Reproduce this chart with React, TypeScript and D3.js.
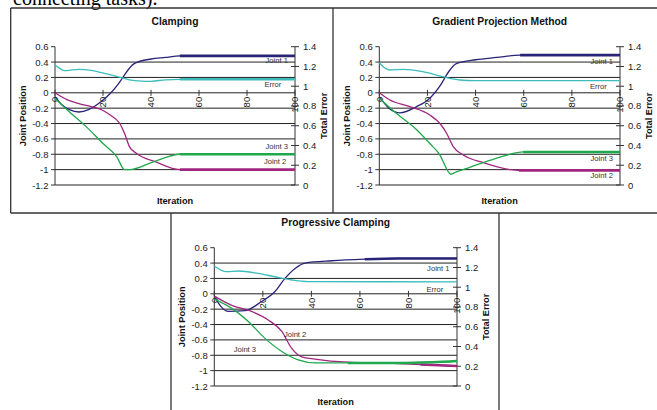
import React from 'react';
import * as d3 from 'd3';

type Pt = [number, number];

// axis ticks
const iterTicks = [0, 20, 40, 60, 80, 100];
const jointTicks = [0.6, 0.4, 0.2, 0, -0.2, -0.4, -0.6, -0.8, -1, -1.2];
const errorTicks = [0, 0.2, 0.4, 0.6, 0.8, 1, 1.2, 1.4];
const gridValues = [0.4, 0.2, 0, -0.2, -0.4, -0.6, -0.8, -1, -1.2];

const seriesNames = ['Joint 1', 'Joint 2', 'Joint 3', 'Error'];
const seriesColors = ['#2a2479', '#a0267f', '#1fa84c', '#3dbcbc'];

// Clamping  [iteration, value]
const clampJoint1: Pt[] = [[0, -0.05], [3, -0.16], [6, -0.22], [10, -0.25], [14, -0.22], [19, -0.12], [23, -0.01], [26, 0.1], [28.5, 0.21], [31, 0.32], [33, 0.38], [40, 0.44], [46, 0.46], [52, 0.48], [100, 0.48]];
const clampJoint2: Pt[] = [[0, 0], [5, -0.09], [10, -0.14], [15, -0.18], [20, -0.23], [23, -0.29], [27, -0.4], [29, -0.53], [31, -0.7], [34, -0.79], [42, -0.9], [52, -1], [100, -1]];
const clampJoint3: Pt[] = [[0, -0.07], [5, -0.22], [13, -0.44], [20, -0.66], [25.7, -0.83], [29, -1], [31, -1], [41, -0.9], [52, -0.8], [100, -0.8]];
const clampError: Pt[] = [[0, 1.215], [2, 1.18], [4, 1.157], [7, 1.165], [10, 1.17], [15, 1.16], [19, 1.14], [24, 1.11], [28, 1.085], [31, 1.065], [36, 1.052], [40, 1.05], [46, 1.065], [52, 1.07], [100, 1.07]];
const clampThick = [52, 52, 52, 50];
const clampLabels: Pt[] = [[92.4, 0.42], [91.7, -0.9], [92.4, -0.7], [90.8, 0.114]];

// Gradient Projection Method
const gradJoint1: Pt[] = [[0, -0.05], [4, -0.2], [8.6, -0.26], [15.5, -0.18], [21, -0.07], [25, 0.08], [29.4, 0.3], [32, 0.38], [40, 0.43], [48.8, 0.46], [58.5, 0.49], [100, 0.49]];
const gradJoint2: Pt[] = [[0, 0], [4.4, -0.094], [12.7, -0.18], [21, -0.29], [25.2, -0.4], [28, -0.53], [30.7, -0.7], [34.9, -0.81], [43.2, -0.91], [54.4, -1], [58, -1.01], [100, -1.01]];
const gradJoint3: Pt[] = [[0, -0.07], [7.2, -0.27], [15.5, -0.48], [21, -0.66], [25.2, -0.81], [28.7, -1.03], [29.6, -1.06], [32, -1.03], [37.6, -0.97], [45.9, -0.88], [54.2, -0.8], [59.8, -0.77], [100, -0.77]];
const gradError: Pt[] = [[0, 1.238], [2, 1.19], [4.4, 1.164], [10, 1.171], [18, 1.147], [26.4, 1.096], [33.4, 1.063], [40, 1.056], [100, 1.056]];
const gradThick = [58, 58, 59.8, 55];
const gradLabels: Pt[] = [[92.4, 0.405], [92.4, -1.07], [92.4, -0.853], [91, 0.079]];

// Progressive Clamping
const progJoint1: Pt[] = [[0, -0.04], [5.8, -0.23], [12.6, -0.22], [19.5, -0.1], [25, 0.03], [29.1, 0.2], [33.3, 0.33], [37.4, 0.4], [48.4, 0.43], [62, 0.45], [75.8, 0.46], [100, 0.46]];
const progJoint2: Pt[] = [[0, -0.03], [7.2, -0.15], [15.4, -0.23], [22.2, -0.34], [27.8, -0.49], [31.9, -0.71], [36, -0.82], [41.5, -0.85], [55.2, -0.89], [69, -0.9], [85, -0.92], [100, -0.94]];
const progJoint3: Pt[] = [[0, -0.07], [7.2, -0.19], [14, -0.36], [20.9, -0.58], [27.8, -0.75], [34.6, -0.86], [41.5, -0.9], [55, -0.9], [76, -0.9], [90, -0.89], [100, -0.875]];
const progError: Pt[] = [[0, 1.215], [5, 1.157], [10, 1.164], [18, 1.14], [25, 1.106], [32, 1.073], [38.7, 1.056], [100, 1.055]];
const progThick = [62, 76, 55, 40];
const progLabels: Pt[] = [[92.3, 0.332], [33.3, -0.527], [12.6, -0.73], [90.9, 0.05]];

const sans = 'Arial, "Liberation Sans", sans-serif';
// plain hyphen minus like the original
const fmt = (v: number) => String(+v.toFixed(1));

type ChartProps = {
  title: string;
  left: number; right: number; top: number; bottom: number;
  series: Pt[][];
  thick: number[];
  labels: Pt[];
};

function Chart({title, left, right, top, bottom, series, thick, labels}: ChartProps) {
  const x = d3.scaleLinear().domain([0, 100]).range([left, right]);
  const y = d3.scaleLinear().domain([-1.2, 0.6]).range([bottom, top]);
  const yErr = d3.scaleLinear().domain([0, 1.4]).range([bottom, top]);
  const y0 = y(0);

  return (
    <g>
      <text x={(left + right) / 2} y={top - 25} textAnchor="middle" dominantBaseline="central"
        fontFamily={sans} fontSize={10.3} fontWeight="bold" fill="#111">{title}</text>

      {/* gridlines */}
      {gridValues.map((v) => (
        <line key={'g' + v} x1={left} x2={right} y1={y(v)} y2={y(v)} stroke="#222" strokeWidth={1} />
      ))}
      <line x1={left} x2={left} y1={top} y2={bottom} stroke="#333" strokeWidth={1} />
      <line x1={right} x2={right} y1={top} y2={bottom} stroke="#333" strokeWidth={1} />

      {/* left axis */}
      {jointTicks.map((v) => (
        <g key={'l' + v}>
          <line x1={left - 4} x2={left} y1={y(v)} y2={y(v)} stroke="#333" />
          <text x={left - 6.5} y={y(v)} textAnchor="end" dominantBaseline="central"
            fontFamily={sans} fontSize={9.5} fill="#222">{fmt(v)}</text>
        </g>
      ))}

      {/* right axis */}
      {errorTicks.map((v) => (
        <g key={'r' + v}>
          <line x1={right - 4} x2={right + 4} y1={yErr(v)} y2={yErr(v)} stroke="#333" />
          <text x={right + 8} y={yErr(v)} dominantBaseline="central"
            fontFamily={sans} fontSize={9.5} fill="#222">{fmt(v)}</text>
        </g>
      ))}

      {/* iteration axis crossing at 0 */}
      {iterTicks.map((t) => (
        <g key={'x' + t}>
          <line x1={x(t)} x2={x(t)} y1={y0 - 3} y2={y0 + 3} stroke="#333" />
          <text transform={`translate(${x(t)},${y0 + 4}) rotate(-90)`} textAnchor="end" dy="0.35em"
            fontFamily={sans} fontSize={9.5} fill="#222">{t}</text>
        </g>
      ))}

      {/* series */}
      {series.map((pts, i) => {
        const yy = i === 3 ? yErr : y;
        const line = d3.line<Pt>().x((d) => x(d[0])).y((d) => yy(d[1])).curve(d3.curveMonotoneX);
        const tail = pts.filter((d) => d[0] >= thick[i]);
        return (
          <g key={'s' + i}>
            <path d={line(pts) || ''} fill="none" stroke={seriesColors[i]} strokeWidth={1.3} />
            <path d={line(tail) || ''} fill="none" stroke={seriesColors[i]} strokeWidth={2.6} />
          </g>
        );
      })}

      {/* data labels */}
      {labels.map((d, i) => (
        <text key={'d' + i} x={x(d[0])} y={y(d[1])} textAnchor="middle" dominantBaseline="central"
          fontFamily={sans} fontSize={7.6} fill="#333">{seriesNames[i]}</text>
      ))}

      {/* axis titles */}
      <text transform={`translate(${left - 32.5},${(top + bottom) / 2}) rotate(-90)`} textAnchor="middle"
        dominantBaseline="central" fontFamily={sans} fontSize={9.2} fontWeight="bold" fill="#111">Joint Position</text>
      <text transform={`translate(${right + 29},${(top + bottom) / 2}) rotate(-90)`} textAnchor="middle"
        dominantBaseline="central" fontFamily={sans} fontSize={9.2} fontWeight="bold" fill="#111">Total Error</text>
      <text x={(left + right) / 2} y={bottom + 15.5} textAnchor="middle" dominantBaseline="central"
        fontFamily={sans} fontSize={9.2} fontWeight="bold" fill="#111">Iteration</text>
    </g>
  );
}

export default function App() {
  return (
    <svg width={657} height={410} style={{position: 'absolute', left: 0, top: 0, background: '#fff'}}>
      <rect width={657} height={410} fill="#fff" />
      <text x={13} y={5} fontFamily='"Liberation Serif", "Times New Roman", serif' fontSize={20} fill="#000">connecting tasks).</text>

      {/* frames */}
      <g stroke="#333" strokeWidth={1.3} fill="none">
        <line x1={10.7} x2={657} y1={8} y2={8} />
        <line x1={10.7} x2={10.7} y1={8} y2={213} />
        <line x1={333} x2={333} y1={8} y2={213} />
        <line x1={10.7} x2={657} y1={213} y2={213} />
        <line x1={171} x2={171} y1={213} y2={410} />
        <line x1={499} x2={499} y1={213} y2={410} />
      </g>

      <Chart title="Clamping" left={55} right={295} top={46.7} bottom={185}
        series={[clampJoint1, clampJoint2, clampJoint3, clampError]} thick={clampThick} labels={clampLabels} />
      <Chart title="Gradient Projection Method" left={379.3} right={620} top={46.7} bottom={185}
        series={[gradJoint1, gradJoint2, gradJoint3, gradError]} thick={gradThick} labels={gradLabels} />
      <Chart title="Progressive Clamping" left={214.3} right={457} top={247.7} bottom={386}
        series={[progJoint1, progJoint2, progJoint3, progError]} thick={progThick} labels={progLabels} />
    </svg>
  );
}
